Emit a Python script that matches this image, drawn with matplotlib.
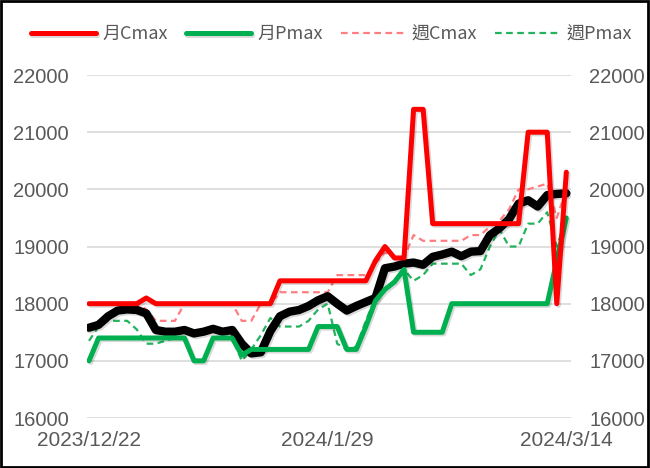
import matplotlib

matplotlib.use("Agg")

import matplotlib.patheffects as pe
import matplotlib.pyplot as plt
import numpy as np
from matplotlib.patches import Rectangle

# 51 trading days, 2023/12/22 .. 2024/3/14
TICK_LABELS = ["2023/12/22", "2024/1/29", "2024/3/14"]
TICK_EVERY = 25

index_close = [
    17580, 17630, 17780, 17880, 17900, 17890, 17830, 17540, 17510, 17510,
    17540, 17480, 17510, 17560, 17510, 17540, 17300, 17130, 17150, 17520,
    17780, 17860, 17890, 17960, 18060, 18130, 18000, 17880, 17960, 18030,
    18100, 18620, 18650, 18700, 18720, 18680, 18820, 18860, 18910, 18830,
    18910, 18920, 19200, 19320, 19480, 19750, 19810, 19700, 19900, 19920,
    19930,
]
month_cmax = [
    18000, 18000, 18000, 18000, 18000, 18000, 18100, 18000, 18000, 18000,
    18000, 18000, 18000, 18000, 18000, 18000, 18000, 18000, 18000, 18000,
    18400, 18400, 18400, 18400, 18400, 18400, 18400, 18400, 18400, 18400,
    18750, 19000, 18800, 18800, 21400, 21400, 19400, 19400, 19400, 19400,
    19400, 19400, 19400, 19400, 19400, 19400, 21000, 21000, 21000, 18000,
    20300,
]
month_pmax = [
    17000, 17400, 17400, 17400, 17400, 17400, 17400, 17400, 17400, 17400,
    17400, 17000, 17000, 17400, 17400, 17400, 17100, 17200, 17200, 17200,
    17200, 17200, 17200, 17200, 17600, 17600, 17600, 17200, 17200, 17600,
    18050, 18250, 18380, 18600, 17500, 17500, 17500, 17500, 18000, 18000,
    18000, 18000, 18000, 18000, 18000, 18000, 18000, 18000, 18000, 18750,
    19500,
]
week_cmax = [
    18000, 18000, 18000, 18000, 18000, 18000, 17900, 17700, 17700, 17700,
    18000, 18000, 18000, 18000, 18000, 18000, 17700, 17700, 18000, 18000,
    18200, 18200, 18200, 18200, 18200, 18200, 18500, 18500, 18500, 18500,
    18700, 18900, 18800, 18800, 19200, 19100, 19100, 19100, 19100, 19100,
    19200, 19200, 19350, 19450, 19650, 20000, 20000, 20050, 20100, 19500,
    20000,
]
week_pmax = [
    17350, 17600, 17700, 17700, 17700, 17550, 17300, 17300, 17350, 17400,
    17400, 17000, 17000, 17400, 17400, 17400, 17000, 17200, 17450, 17750,
    17600, 17600, 17600, 17700, 17900, 18000, 17300, 17200, 17250, 17700,
    18100, 18250, 18400, 18600, 18400, 18500, 18700, 18700, 18700, 18700,
    18500, 18600, 19000, 19300, 19000, 19000, 19400, 19400, 19600, 19000,
    19500,
]

x = np.arange(len(index_close))
shadow = [pe.SimpleLineShadow(offset=(1.2, -1.2), alpha=0.15), pe.Normal()]

fig = plt.figure(figsize=(6.5, 4.68), dpi=100)
ax = fig.add_axes([0.134, 0.1068, 0.7446, 0.7329])

ax.plot(x, week_cmax, color="#FF7C80", linewidth=1.6, dashes=(3, 2),
        label="週Cmax", zorder=2)
ax.plot(x, week_pmax, color="#22B35C", linewidth=1.6, dashes=(3, 2),
        label="週Pmax", zorder=2)
ax.plot(x, index_close, color="black", linewidth=6, solid_joinstyle="round",
        solid_capstyle="round", zorder=3, path_effects=shadow)
ax.plot(x, month_pmax, color="#00B050", linewidth=3.6, solid_capstyle="round",
        label="月Pmax", zorder=4, path_effects=shadow)
ax.plot(x, month_cmax, color="#FF0000", linewidth=3.6, solid_capstyle="round",
        label="月Cmax", zorder=5, path_effects=shadow)

ax.set_xlim(-0.2, 50.5)
ax.set_ylim(16000, 22000)
ax.set_yticks(np.arange(16000, 22001, 1000))
ax.set_xticks(x[::TICK_EVERY])
ax.set_xticklabels(TICK_LABELS)
ax.grid(axis="y", color="#D9D9D9", linewidth=1.2)
ax.grid(axis="x", visible=False)
ax.set_axisbelow(True)
for spine in ax.spines.values():
    spine.set_visible(False)
ax.tick_params(axis="y", length=0, pad=13, labelsize=14.5, labelcolor="#595959",
               labelright=True, labelfontfamily="Liberation Sans")
ax.tick_params(axis="x", length=0, pad=9, labelsize=15, labelcolor="#595959",
               labelfontfamily="Liberation Sans")

handles, labels = ax.get_legend_handles_labels()
order = [labels.index(name) for name in ["月Cmax", "月Pmax", "週Cmax", "週Pmax"]]
fig.legend(
    [handles[i] for i in order],
    [labels[i] for i in order],
    loc="center",
    bbox_to_anchor=(0.51, 0.927),
    ncol=4,
    frameon=False,
    handlelength=3.6,
    handletextpad=0.35,
    columnspacing=1.0,
    prop={"family": ["Noto Sans CJK TC"], "size": 13},
    labelcolor="#595959",
)

fig.patches.append(Rectangle((0.002, 0.003), 0.995, 0.994, transform=fig.transFigure,
                             fill=False, edgecolor="black", linewidth=2))
fig.savefig("out.png", dpi=100)
